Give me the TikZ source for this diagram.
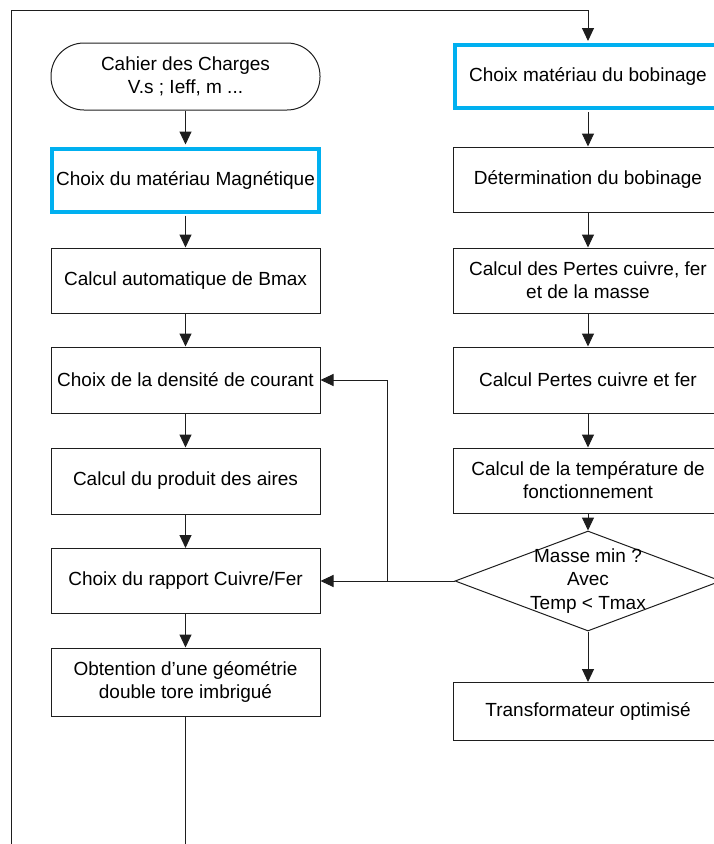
\documentclass[tikz,border=0pt]{standalone}
\usepackage{fontspec}
\setmainfont{Liberation Sans}
\usetikzlibrary{shapes.geometric,arrows.meta}
\definecolor{bleu}{RGB}{0,176,240}
\definecolor{trait}{RGB}{30,30,30}
\begin{document}
\begin{tikzpicture}[x=1pt,y=-1pt,
  box/.style={draw=trait, line width=1pt, minimum width=269pt, minimum height=65pt,
    align=center, inner sep=2pt, font=\fontsize{19}{23}\selectfont},
  bluebox/.style={box, draw=bleu, line width=4pt},
  term/.style={box, rounded corners=33pt},
  dia/.style={diamond, draw=trait, line width=1pt, minimum width=266pt,
    minimum height=100pt, inner sep=0pt},
  diatxt/.style={align=center, inner sep=0pt, font=\fontsize{19}{23.5}\selectfont},
  arr/.style={draw=trait, line width=1pt, -{Triangle[length=13pt,width=12pt]}},
  ln/.style={draw=trait, line width=1pt}]
\useasboundingbox (0,0) rectangle (714,844);
\clip (0,0) rectangle (714,844);
% left column
\node[term, minimum height=67pt] (cahier) at (185.5,76.5) {Cahier des Charges\\V.s ; Ieff, m ...};
\node[bluebox, minimum width=267pt, minimum height=63pt] (mag) at (185.5,180) {Choix du matériau Magnétique};
\node[box] (bmax) at (185.5,280.5) {Calcul automatique de Bmax};
\node[box, minimum height=66pt] (densite) at (185.5,380) {Choix de la densité de courant};
\node[box, minimum height=66pt] (produit) at (185.5,481) {Calcul du produit des aires};
\node[box] (rapport) at (185.5,581) {Choix du rapport Cuivre/Fer};
\node[box, minimum height=68pt] (obt) at (185.5,682) {Obtention d’une géométrie\\double tore imbrigué};
% right column
\node[bluebox, minimum width=266pt, minimum height=63pt] (bob) at (588,76.5) {Choix matériau du bobinage};
\node[box] (det) at (588,179.5) {Détermination du bobinage};
\node[box] (pertes) at (588,280.5) {Calcul des Pertes cuivre, fer\\et de la masse};
\node[box, minimum height=66pt] (pcf) at (588,380) {Calcul Pertes cuivre et fer};
\node[box] (temp) at (588,480.5) {Calcul de la température de\\fonctionnement};
\node[dia] (dia) at (588,581) {};
\node[diatxt] (diatext) at (dia.center) {Masse min ?\\Avec\\Temp < Tmax};
\node[box, minimum height=58pt] (transfo) at (588,711.5) {Transformateur optimisé};
% coordinates
\coordinate (loopbl) at (11,900);
\coordinate (looptl) at (11,10);
\coordinate (fb) at (387,581);
% left arrows
\draw[arr, shorten >=2pt] (cahier.south) -- (mag.north);
\draw[arr, shorten <=2pt] (mag.south) -- (bmax.north);
\draw[arr] (bmax.south) -- (densite.north);
\draw[arr] (densite.south) -- (produit.north);
\draw[arr] (produit.south) -- (rapport.north);
\draw[arr] (rapport.south) -- (obt.north);
% loop
\draw[arr, shorten >=2pt] (obt.south) |- (loopbl) -- (looptl) -| (bob.north);
% right arrows
\draw[arr, shorten <=2pt] (bob.south) -- (det.north);
\draw[arr] (det.south) -- (pertes.north);
\draw[arr] (pertes.south) -- (pcf.north);
\draw[arr] (pcf.south) -- (temp.north);
\draw[arr] (temp.south) -- (dia.north);
\draw[arr] (dia.south) -- (transfo.north);
% feedback
\draw[arr] (dia.west) -- (rapport.east);
\draw[arr] (fb) |- (densite.east);
\end{tikzpicture}
\end{document}
